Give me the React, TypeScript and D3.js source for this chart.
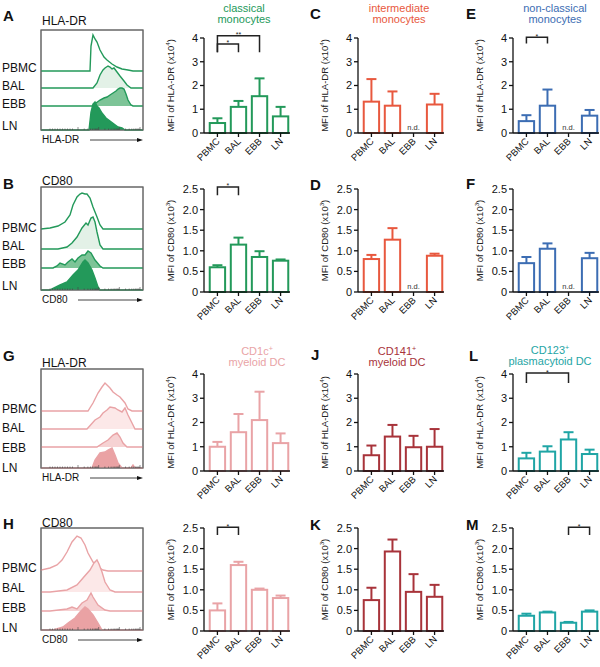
import React from 'react';
import * as d3 from 'd3';

const FONT = '"Liberation Sans", Arial, Helvetica, sans-serif';

// ---------- categories & ticks ----------
const SITES = ['PBMC', 'BAL', 'EBB', 'LN'];
const HLA_TICKS = [0, 1, 2, 3, 4];
const HLA_TICK_LABELS = ['0', '1', '2', '3', '4'];
const CD80_TICKS = [0, 0.5, 1, 1.5, 2, 2.5];
const CD80_TICK_LABELS = ['0', '0.5', '1.0', '1.5', '2.0', '2.5'];

// ---------- bar values (mean, SEM) ----------
// HLA-DR MFI (x10^4)
const classicalHLA = [0.42, 1.1, 1.55, 0.7];
const classicalHLASem = [0.2, 0.25, 0.75, 0.4];
const intermediateHLA = [1.32, 1.15, null, 1.2];
const intermediateHLASem = [0.95, 0.6, null, 0.45];
const nonclassicalHLA = [0.5, 1.15, null, 0.73];
const nonclassicalHLASem = [0.25, 0.68, null, 0.24];
const cd1cHLA = [1.0, 1.6, 2.1, 1.15];
const cd1cHLASem = [0.2, 0.75, 1.17, 0.4];
const cd141HLA = [0.65, 1.42, 0.98, 1.0];
const cd141HLASem = [0.4, 0.48, 0.47, 0.73];
const cd123HLA = [0.52, 0.8, 1.3, 0.7];
const cd123HLASem = [0.23, 0.22, 0.3, 0.18];
// CD80 MFI (x10^3)
const classicalCD80 = [0.6, 1.15, 0.85, 0.76];
const classicalCD80Sem = [0.05, 0.17, 0.14, 0.03];
const intermediateCD80 = [0.8, 1.27, null, 0.88];
const intermediateCD80Sem = [0.1, 0.28, null, 0.05];
const nonclassicalCD80 = [0.7, 1.05, null, 0.82];
const nonclassicalCD80Sem = [0.15, 0.13, null, 0.13];
const cd1cCD80 = [0.5, 1.6, 1.0, 0.8];
const cd1cCD80Sem = [0.17, 0.08, 0.03, 0.06];
const cd141CD80 = [0.75, 1.93, 0.95, 0.83];
const cd141CD80Sem = [0.3, 0.29, 0.43, 0.29];
const cd123CD80 = [0.37, 0.45, 0.2, 0.47];
const cd123CD80Sem = [0.05, 0.02, 0.02, 0.03];

// ---------- histogram curves: [channel, count] ----------
const hA_PBMC = [[49,0],[50,25],[52,36],[54,32],[56,29],[59,21],[63,14],[66,11],[71,7],[76,4],[81,2],[87,1],[92,0]];
const hA_BAL = [[52,0],[56,5],[59,13],[62,18],[64,20],[67,22],[69,21],[71,19],[73,20],[76,16],[79,12],[83,7],[86,3],[90,0]];
const hA_EBB = [[51,0],[55,3],[59,6],[63,8],[66,9],[69,11],[72,13],[75,15],[77,17],[79,18],[81,18],[83,17],[85,12],[87,6],[90,1],[92,0]];
const hA_LN = [[48,0],[50,18],[52,26],[54,28],[56,24],[58,22],[61,17],[65,12],[69,9],[73,6],[77,3],[81,2],[84,0]];

const hB_PBMC = [[0,0],[9,1],[17,3],[24,7],[29,14],[32,24],[36,32],[39,35],[41,36],[44,35],[46,35],[49,31],[52,22],[56,12],[59,4],[62,0]];
const hB_BAL = [[17,0],[26,2],[31,6],[36,12],[41,21],[45,26],[47,24],[50,31],[52,32],[54,27],[56,17],[59,4],[62,0]];
const hB_EBB = [[12,0],[16,2],[19,5],[24,3],[27,6],[31,9],[34,6],[37,10],[41,13],[44,13],[47,17],[50,15],[54,8],[59,2],[62,0]];
const hB_LN = [[9,0],[19,5],[26,8],[32,15],[37,20],[42,28],[44,30],[47,27],[51,20],[54,12],[57,3],[59,0]];

const hG_PBMC = [[47,0],[52,8],[57,18],[61,24],[64,28],[66,26],[69,23],[72,19],[76,16],[79,14],[84,8],[87,2],[91,0]];
const hG_BAL = [[46,0],[54,9],[59,12],[62,16],[66,19],[69,22],[74,21],[77,19],[81,17],[84,21],[87,14],[91,6],[94,0]];
const hG_EBB = [[56,0],[62,4],[67,7],[72,12],[76,14],[79,10],[82,4],[86,0]];
const hG_LN = [[51,0],[54,8],[59,15],[64,16],[67,18],[71,20],[74,13],[77,5],[81,0],[90,0],[92,3],[94,0]];

const hH_PBMC = [[0,1],[9,3],[16,6],[21,11],[26,19],[31,29],[36,35],[40,33],[44,26],[47,18],[52,9],[57,4],[62,1],[67,0]];
const hH_BAL = [[9,0],[26,2],[36,7],[42,14],[49,22],[53,29],[56,32],[58,28],[61,20],[64,10],[69,2],[74,0]];
const hH_EBB = [[9,0],[26,2],[31,4],[36,2],[41,8],[46,11],[50,18],[52,14],[57,6],[64,1],[69,0]];
const hH_LN = [[12,0],[22,3],[27,7],[34,12],[39,18],[44,23],[47,21],[52,15],[57,7],[61,0]];

const GREEN = '#23995a';
const ORANGE = '#e8583e';
const BLUE = '#3c6db3';
const PINK = '#e9a3a6';
const DARKRED = '#a8333a';
const TEAL = '#1fa5a5';

const xH = d3.scaleLinear().domain([0, 102]).range([41, 143]);
const hS = d3.scaleLinear().domain([0, 100]).range([0, 100]);

function Sup({ base, sup, size }: any) {
  return (
    <>
      {base}
      <tspan dy={-size * 0.4} fontSize={size * 0.65}>{sup}</tspan>
    </>
  );
}

function HistPanel({ top, bottom, baselines, labelYs, curves, stroke, fills, letter, letterY, title, titleY, axisLabel, arrowStart }: any) {
  const area = (b: number) => d3.area<any>().x((d) => xH(d[0])).y0(b).y1((d) => b - hS(d[1]));
  const line = (b: number) => d3.line<any>().x((d) => xH(d[0])).y((d) => b - hS(d[1]));
  const minor = d3.scaleLog().domain([100, 100000]).range([78, 140]);
  const minorTicks = minor.ticks();
  const linTicks = d3.range(50, 74, 2.5);
  return (
    <g>
      <text x={3} y={letterY} fontSize={15} fontWeight="bold" fill="#111">{letter}</text>
      <text x={42} y={titleY} fontSize={12} fill="#111">{title}</text>
      <rect x={41} y={top} width={102} height={bottom - top} fill="#fff" stroke="#666" strokeWidth={1} />
      {curves.map((c: any, i: number) => {
        const pts = [[0, 0], ...c, [102, 0]];
        return (
          <g key={i}>
            <path d={area(baselines[i])(pts) as string} fill={fills[i]} stroke="none" />
            <path d={line(baselines[i])(pts) as string} fill="none" stroke={stroke} strokeWidth={1.4} />
          </g>
        );
      })}
      <rect x={41} y={top} width={102} height={bottom - top} fill="none" stroke="#666" strokeWidth={1} />
      {SITES.map((s, i) => (
        <text key={s} x={2} y={labelYs[i]} fontSize={12} fill="#111">{s}</text>
      ))}
      {linTicks.map((t, i) => (
        <line key={'l' + i} x1={t} x2={t} y1={bottom} y2={bottom - 1.5} stroke="#444" strokeWidth={0.6} />
      ))}
      {minorTicks.map((t, i) => {
        const major = Math.log10(t) % 1 === 0;
        return <line key={'m' + i} x1={minor(t)} x2={minor(t)} y1={bottom} y2={bottom - (major ? 3 : 1.5)} stroke="#444" strokeWidth={0.6} />;
      })}
      <text x={42} y={bottom + 13} fontSize={10} fill="#111">{axisLabel}</text>
      <line x1={arrowStart} x2={140} y1={bottom + 10} y2={bottom + 10} stroke="#111" strokeWidth={0.8} />
      <path d={`M143,${bottom + 10} L137,${bottom + 8} L137,${bottom + 12} Z`} fill="#111" />
    </g>
  );
}

function BarPanel({ ax, y0, y1, max, ticks, tickLabels, color, means, sems, title, titleSup, titleX, titleYs, letter, letterX, letterY, yLabel, ySup, brackets }: any) {
  const y = d3.scaleLinear().domain([0, max]).range([y0, y1]);
  const x = d3.scaleBand().domain(SITES).range([ax + 3, ax + 87]).paddingInner(0.27).paddingOuter(0.13);
  const bw = x.bandwidth();
  const cx = (s: string) => (x(s) as number) + bw / 2;
  return (
    <g>
      {letter && <text x={letterX} y={letterY} fontSize={15} fontWeight="bold" fill="#111">{letter}</text>}
      {title && title.map((t: string, i: number) => (
        <text key={i} x={titleX} y={titleYs[i]} fontSize={11} fill={color} textAnchor="middle">
          {i === 0 && titleSup ? <Sup base={t} sup={titleSup} size={11} /> : t}
        </text>
      ))}
      <text transform={`translate(${ax - 30},${(y0 + y1) / 2}) rotate(-90)`} fontSize={9.5} textAnchor="middle" fill="#222">
        <Sup base={yLabel} sup={ySup} size={9.5} />
        <tspan dy={9.5 * 0.4}>)</tspan>
      </text>
      {/* bars */}
      {SITES.map((s, i) => {
        const m = means[i];
        if (m === null) {
          return <text key={s} x={cx(s)} y={y0 - 3} fontSize={7.5} textAnchor="middle" fill="#333">n.d.</text>;
        }
        const top = y(m + sems[i]);
        return (
          <g key={s}>
            <line x1={cx(s)} x2={cx(s)} y1={y(m)} y2={top} stroke={color} strokeWidth={2} />
            <line x1={cx(s) - 5} x2={cx(s) + 5} y1={top} y2={top} stroke={color} strokeWidth={2} />
            <rect x={x(s)} y={y(m)} width={bw} height={y0 - y(m)} fill="#fff" stroke={color} strokeWidth={2} />
          </g>
        );
      })}
      {/* axes */}
      <line x1={ax} x2={ax} y1={y0} y2={y1} stroke="#111" strokeWidth={1.3} />
      <line x1={ax} x2={ax + 86} y1={y0} y2={y0} stroke="#111" strokeWidth={1.3} />
      {ticks.map((t: number, i: number) => (
        <g key={t}>
          <line x1={ax - 4} x2={ax} y1={y(t)} y2={y(t)} stroke="#111" strokeWidth={1.3} />
          <text x={ax - 6} y={y(t)} dy="0.36em" fontSize={11} textAnchor="end" fill="#111">{tickLabels[i]}</text>
        </g>
      ))}
      {SITES.map((s) => (
        <g key={s}>
          <line x1={cx(s)} x2={cx(s)} y1={y0} y2={y0 + 4} stroke="#111" strokeWidth={1.3} />
          <text transform={`translate(${cx(s) + 3},${y0 + 9}) rotate(-45)`} fontSize={9.5} textAnchor="end" fill="#111">{s}</text>
        </g>
      ))}
      {/* significance brackets */}
      {(brackets || []).map((b: any, i: number) => {
        const xa = cx(SITES[b.a]);
        const xb = cx(SITES[b.b]);
        return (
          <g key={i}>
            <path d={`M${xa},${y(b.leg)} V${y(b.top)} H${xb} V${y(b.leg)}`} fill="none" stroke="#222" strokeWidth={1.5} />
            <text x={(xa + xb) / 2} y={y(b.top) + 1.5} fontSize={7} textAnchor="middle" fill="#222">{b.label}</text>
          </g>
        );
      })}
    </g>
  );
}

export default function App() {
  const AX = [204, 358, 513];
  const row1 = { y0: 133, y1: 38, max: 4, ticks: HLA_TICKS, tickLabels: HLA_TICK_LABELS, yLabel: 'MFI of HLA-DR (x10', ySup: '4' };
  const row2 = { y0: 292, y1: 189, max: 2.5, ticks: CD80_TICKS, tickLabels: CD80_TICK_LABELS, yLabel: 'MFI of CD80 (x10', ySup: '3' };
  const row3 = { y0: 471, y1: 374, max: 4, ticks: HLA_TICKS, tickLabels: HLA_TICK_LABELS, yLabel: 'MFI of HLA-DR (x10', ySup: '4' };
  const row4 = { y0: 631, y1: 528, max: 2.5, ticks: CD80_TICKS, tickLabels: CD80_TICK_LABELS, yLabel: 'MFI of CD80 (x10', ySup: '3' };
  const greenFills = ['#ffffff', '#e3f1e7', '#7dc497', GREEN];
  const pinkFills = ['#ffffff', '#fce8e8', '#f6d2d3', '#eaa2a4'];
  return (
    <svg width={600} height={667} style={{ position: 'absolute', left: 0, top: 0, fontFamily: FONT }}>
      <rect width={600} height={667} fill="#fff" />
      <HistPanel top={30} bottom={130} baselines={[71, 88, 106, 130]} labelYs={[72, 90, 108, 130]} curves={[hA_PBMC, hA_BAL, hA_EBB, hA_LN]}
        stroke={GREEN} fills={greenFills} letter="A" letterY={21} title="HLA-DR" titleY={25} axisLabel="HLA-DR" arrowStart={90} />
      <HistPanel top={187} bottom={290} baselines={[229, 249, 268, 290]} labelYs={[232, 250, 268, 290]} curves={[hB_PBMC, hB_BAL, hB_EBB, hB_LN]}
        stroke={GREEN} fills={greenFills} letter="B" letterY={189} title="CD80" titleY={185} axisLabel="CD80" arrowStart={78} />
      <HistPanel top={369} bottom={468} baselines={[411, 429, 447, 468]} labelYs={[413, 432, 452, 472]} curves={[hG_PBMC, hG_BAL, hG_EBB, hG_LN]}
        stroke={PINK} fills={pinkFills} letter="G" letterY={361} title="HLA-DR" titleY={367} axisLabel="HLA-DR" arrowStart={90} />
      <HistPanel top={528} bottom={630} baselines={[571, 592, 611, 630]} labelYs={[572, 592, 612, 632]} curves={[hH_PBMC, hH_BAL, hH_EBB, hH_LN]}
        stroke={PINK} fills={pinkFills} letter="H" letterY={529} title="CD80" titleY={527} axisLabel="CD80" arrowStart={78} />

      {/* Row 1 */}
      <BarPanel ax={AX[0]} {...row1} color={GREEN} means={classicalHLA} sems={classicalHLASem}
        title={['classical', 'monocytes']} titleX={244} titleYs={[12, 23]}
        brackets={[{ a: 0, b: 2, top: 4.1, leg: 3.4, label: '**' }, { a: 0, b: 1, top: 3.75, leg: 3.4, label: '*' }]} />
      <BarPanel ax={AX[1]} {...row1} color={ORANGE} means={intermediateHLA} sems={intermediateHLASem}
        title={['intermediate', 'monocytes']} titleX={399} titleYs={[12, 23]} letter="C" letterX={310} letterY={19} />
      <BarPanel ax={AX[2]} {...row1} color={BLUE} means={nonclassicalHLA} sems={nonclassicalHLASem}
        title={['non-classical', 'monocytes']} titleX={555} titleYs={[12, 23]} letter="E" letterX={466} letterY={19}
        brackets={[{ a: 0, b: 1, top: 4.03, leg: 3.77, label: '*' }]} />
      {/* Row 2 */}
      <BarPanel ax={AX[0]} {...row2} color={GREEN} means={classicalCD80} sems={classicalCD80Sem}
        brackets={[{ a: 0, b: 1, top: 2.55, leg: 2.35, label: '*' }]} />
      <BarPanel ax={AX[1]} {...row2} color={ORANGE} means={intermediateCD80} sems={intermediateCD80Sem}
        letter="D" letterX={310} letterY={190} />
      <BarPanel ax={AX[2]} {...row2} color={BLUE} means={nonclassicalCD80} sems={nonclassicalCD80Sem}
        letter="F" letterX={466} letterY={189} />
      {/* Row 3 */}
      <BarPanel ax={AX[0]} {...row3} color={PINK} means={cd1cHLA} sems={cd1cHLASem}
        title={['CD1c', 'myeloid DC']} titleSup="+" titleX={257} titleYs={[355, 366]} />
      <BarPanel ax={AX[1]} {...row3} color={DARKRED} means={cd141HLA} sems={cd141HLASem}
        title={['CD141', 'myeloid DC']} titleSup="+" titleX={397} titleYs={[355, 366]} letter="J" letterX={311} letterY={360} />
      <BarPanel ax={AX[2]} {...row3} color={TEAL} means={cd123HLA} sems={cd123HLASem}
        title={['CD123', 'plasmacytoid DC']} titleSup="+" titleX={550} titleYs={[354, 365]} letter="L" letterX={469} letterY={361}
        brackets={[{ a: 0, b: 2, top: 4.04, leg: 3.63, label: '*' }]} />
      {/* Row 4 */}
      <BarPanel ax={AX[0]} {...row4} color={PINK} means={cd1cCD80} sems={cd1cCD80Sem}
        brackets={[{ a: 0, b: 1, top: 2.52, leg: 2.33, label: '*' }]} />
      <BarPanel ax={AX[1]} {...row4} color={DARKRED} means={cd141CD80} sems={cd141CD80Sem}
        letter="K" letterX={310} letterY={530} />
      <BarPanel ax={AX[2]} {...row4} color={TEAL} means={cd123CD80} sems={cd123CD80Sem}
        letter="M" letterX={466} letterY={530}
        brackets={[{ a: 2, b: 3, top: 2.52, leg: 2.33, label: '*' }]} />
    </svg>
  );
}
